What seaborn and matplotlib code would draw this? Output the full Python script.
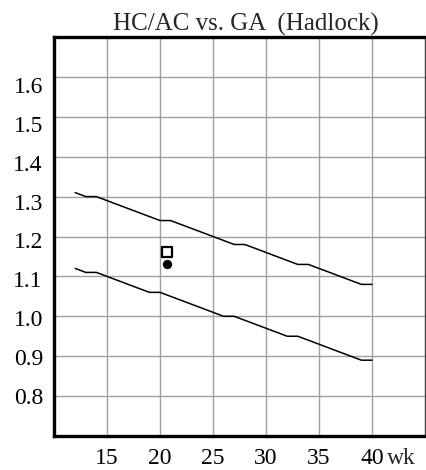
import matplotlib
matplotlib.use("Agg")
import matplotlib.pyplot as plt
import seaborn as sns
import pandas as pd

# ---- data ----
weeks = [12, 13, 14, 15, 16, 17, 18, 19, 20, 21, 22, 23, 24, 25, 26, 27, 28, 29,
         30, 31, 32, 33, 34, 35, 36, 37, 38, 39, 40]
upper = [1.31, 1.30, 1.30, 1.29, 1.28, 1.27, 1.26, 1.25, 1.24, 1.24, 1.23, 1.22,
         1.21, 1.20, 1.19, 1.18, 1.18, 1.17, 1.16, 1.15, 1.14, 1.13, 1.13, 1.12,
         1.11, 1.10, 1.09, 1.08, 1.08]
lower = [1.12, 1.11, 1.11, 1.10, 1.09, 1.08, 1.07, 1.06, 1.06, 1.05, 1.04, 1.03,
         1.02, 1.01, 1.00, 1.00, 0.99, 0.98, 0.97, 0.96, 0.95, 0.95, 0.94, 0.93,
         0.92, 0.91, 0.90, 0.89, 0.89]
square_ga = [20.7]
square_val = [1.16]
circle_ga = [20.7]
circle_val = [1.13]
x_ticks = [15, 20, 25, 30, 35, 40]
y_ticks = [0.8, 0.9, 1.0, 1.1, 1.2, 1.3, 1.4, 1.5, 1.6]
title = "HC/AC vs. GA  (Hadlock)"
x_unit = "wk"

sns.set_style("white")
plt.rcParams["font.family"] = ["Liberation Serif", "DejaVu Serif"]

W, H = 426, 470
fig = plt.figure(figsize=(W / 100, H / 100), dpi=100)
L, R, T, B = 54, 425, 37, 436
ax = fig.add_axes([L / W, 1 - B / H, (R - L) / W, (B - T) / H])

df = pd.DataFrame({"week": weeks, "upper": upper, "lower": lower})
sns.lineplot(data=df, x="week", y="upper", ax=ax, color="black", linewidth=1.1)
sns.lineplot(data=df, x="week", y="lower", ax=ax, color="black", linewidth=1.1)

sns.scatterplot(x=square_ga, y=square_val, ax=ax, marker="s", s=60,
                facecolor="white", edgecolor="black", linewidth=1.6, zorder=5)
sns.scatterplot(x=circle_ga, y=circle_val, ax=ax, marker="o", s=45,
                color="black", edgecolor="black", linewidth=0, zorder=5)

ax.set_xlim(10, 45)
ax.set_ylim(0.7, 1.7)
ax.xaxis.remove_overlapping_locs = False
ax.yaxis.remove_overlapping_locs = False

# x: labeled major ticks carry grid lines too
ax.set_xticks(x_ticks)
ax.set_xticklabels([str(t) for t in x_ticks])
# y: grid on major ticks (unlabeled)
ax.set_yticks(y_ticks)
ax.set_yticklabels([])
ax.grid(True, which="major", color="#a0a0a0", linewidth=1.0)
ax.set_axisbelow(True)
ax.tick_params(axis="both", which="major", length=0, labelsize=17, colors="black")
ax.tick_params(axis="x", which="major", pad=9)

# y labels on minor ticks; in the reference they are laid out on a
# slightly compressed scale relative to the grid
ax.set_yticks([0.8 + (v - 0.8) * 0.975 for v in y_ticks], minor=True)
ax.set_yticklabels([f"{v:.1f}" for v in y_ticks], minor=True)
ax.tick_params(axis="y", which="minor", length=0, labelsize=17, colors="black", pad=8)
ax.grid(False, which="minor")
ax.set_xlabel("")
ax.set_ylabel("")

for side in ["left", "top", "bottom"]:
    ax.spines[side].set_color("black")
    ax.spines[side].set_linewidth(2.4)
ax.spines["right"].set_color("#404040")
ax.spines["right"].set_linewidth(1.0)

fig.text(113 / W, 1 - 30.7 / H, title, ha="left", va="baseline", fontsize=18)

# unit label placed right after the last x tick label, on the same baseline
fig.canvas.draw()
renderer = fig.canvas.get_renderer()
last_lbl = ax.get_xticklabels()[-1]
bb = last_lbl.get_window_extent(renderer)
fig.text((bb.x1 + 3) / W, bb.y0 / H, x_unit, ha="left", va="bottom", fontsize=17)

fig.savefig("out.png", dpi=100)
